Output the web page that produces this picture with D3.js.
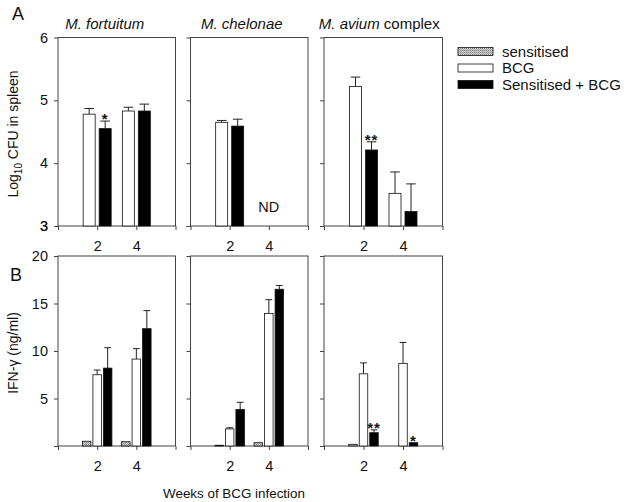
<!DOCTYPE html>
<html><head><meta charset="utf-8">
<script src="https://cdn.jsdelivr.net/npm/d3@7"></script>
<style>body{margin:0;background:#fff}svg{display:block}text{font-family:"Liberation Sans",Arial,sans-serif;fill:#111}</style>
</head><body><svg id="c" width="627" height="502"></svg>
<script>
const weeks = [2, 4];
const panelTitles = ["M. fortuitum", "M. chelonae", "M. avium complex"];
const cfuTicks = [3, 4, 5, 6];
const ifnTicks = [5, 10, 15, 20];
// top row: log10 CFU in spleen (null = not done)
const cfuBCG = [[4.78, 4.83], [4.65, null], [5.22, 3.52]];
const cfuBCGSem = [[0.09, 0.06], [0.03, null], [0.15, 0.34]];
const cfuSensBCG = [[4.55, 4.83], [4.59, null], [4.21, 3.23]];
const cfuSensBCGSem = [[0.12, 0.11], [0.11, null], [0.13, 0.44]];
const cfuStars = [["*", ""], ["", ""], ["**", ""]];
// bottom row: IFN-gamma ng/ml
const ifnSens = [[0.5, 0.45], [0.08, 0.35], [0.18, 0]];
const ifnBCG = [[7.5, 9.15], [1.8, 13.95], [7.6, 8.7]];
const ifnBCGSem = [[0.5, 1.1], [0.12, 1.45], [1.15, 2.2]];
const ifnSensBCG = [[8.2, 12.35], [3.85, 16.5], [1.4, 0.35]];
const ifnSensBCGSem = [[2.15, 1.9], [0.75, 0.4], [0.3, 0.0]];
const ifnStars = [["", ""], ["", ""], ["**", "*"]];
const legendLabels = ["sensitised", "BCG", "Sensitised + BCG"];

const svg = d3.select("#c");
const defs = svg.append("defs");
const pat = defs.append("pattern").attr("id", "stip").attr("width", 2).attr("height", 2).attr("patternUnits", "userSpaceOnUse");
pat.append("rect").attr("width", 2).attr("height", 2).attr("fill", "#d4d4d4");
pat.append("rect").attr("width", 1).attr("height", 1).attr("fill", "#808080");
pat.append("rect").attr("x", 1).attr("y", 1).attr("width", 1).attr("height", 1).attr("fill", "#a0a0a0");
const fills = ["url(#stip)", "#fff", "#000"];

const colX = [[58, 175.5], [190.5, 308], [324, 442.5]];
const titleShift = [-12, -7.5, -4];
const rowTop = [37.5, 226], rowBot = [256, 446];
const axisCol = "#444";

function drawPanel(ci, rowY, yDomain, yTicks, showYLabels, series, sems, stars, barW, step, nd) {
  const x = d3.scaleLinear().domain([0, 6]).range(colX[ci]);
  const y = d3.scaleLinear().domain(yDomain).range([rowY[1], rowY[0]]);
  const g = svg.append("g");
  g.append("rect").attr("x", colX[ci][0]).attr("y", rowY[0]).attr("width", colX[ci][1] - colX[ci][0])
    .attr("height", rowY[1] - rowY[0]).attr("fill", "none").attr("stroke", axisCol).attr("stroke-width", 1);
  const ya = d3.axisLeft(y).tickValues(yTicks.concat([yDomain[0]])).tickSize(4).tickPadding(6)
    .tickFormat(d => showYLabels && yTicks.includes(d) ? d : "");
  const yg = g.append("g").attr("transform", `translate(${colX[ci][0]},0)`).call(ya);
  yg.select(".domain").remove();
  yg.selectAll("line").attr("stroke", axisCol);
  yg.selectAll("text").style("font-size", "14.5px").attr("fill", "#111");
  const xa = d3.axisBottom(x).tickValues([0, 2, 4, 6]).tickSize(4).tickPadding(11)
    .tickFormat(d => weeks.includes(d) ? d : "");
  const xg = g.append("g").attr("transform", `translate(0,${rowY[1]})`).call(xa);
  xg.select(".domain").remove();
  xg.selectAll("line").attr("stroke", axisCol);
  xg.selectAll("text").style("font-size", "14.5px").attr("fill", "#111");
  const n = series.length;
  weeks.forEach((w, wi) => {
    series.forEach((s, si) => {
      const v = s.vals[ci][wi];
      if (v == null || v === 0) return;
      const cx = x(w) + (si - (n - 1) / 2) * step;
      g.append("rect").attr("x", cx - barW / 2).attr("y", y(v)).attr("width", barW)
        .attr("height", Math.max(0.5, y(yDomain[0]) - y(v))).attr("fill", fills[s.fi])
        .attr("stroke", "#111").attr("stroke-width", 0.8);
      const sem = sems[si] ? sems[si][ci][wi] : null;
      if (sem != null && sem > 0) {
        const top = y(v + sem);
        g.append("line").attr("x1", cx).attr("x2", cx).attr("y1", y(v)).attr("y2", top).attr("stroke", "#222");
        g.append("line").attr("x1", cx - barW * 0.4).attr("x2", cx + barW * 0.4).attr("y1", top).attr("y2", top).attr("stroke", "#222");
      }
      if (si === n - 1 && stars[ci][wi]) {
        const top = y(v + (sem || 0));
        g.append("text").attr("x", cx).attr("y", top + 3).attr("text-anchor", "middle")
          .style("font-size", "15px").style("font-weight", "bold").style("letter-spacing", "1px").text(stars[ci][wi]);
      }
    });
  });
  if (nd && nd[ci]) {
    g.append("text").attr("x", x(4)).attr("y", y(3.22)).attr("text-anchor", "middle")
      .style("font-size", "14.5px").text(nd[ci]);
  }
}

for (let ci = 0; ci < 3; ci++) {
  drawPanel(ci, rowTop, [3, 6], cfuTicks, ci === 0,
    [{ vals: cfuBCG, fi: 1 }, { vals: cfuSensBCG, fi: 2 }], [cfuBCGSem, cfuSensBCGSem], cfuStars, 12, 16,
    ["", "ND", ""]);
  drawPanel(ci, rowBot, [0, 20], ifnTicks, ci === 0,
    [{ vals: ifnSens, fi: 0 }, { vals: ifnBCG, fi: 1 }, { vals: ifnSensBCG, fi: 2 }],
    [null, ifnBCGSem, ifnSensBCGSem], ifnStars, 8.5, 10.5, null);
  const tx = (colX[ci][0] + colX[ci][1]) / 2 + titleShift[ci];
  const t = svg.append("text").attr("x", tx).attr("y", 28.5).attr("text-anchor", "middle").style("font-size", "15px");
  if (ci < 2) t.append("tspan").style("font-style", "italic").text(panelTitles[ci]);
  else { t.append("tspan").style("font-style", "italic").text("M. avium"); t.append("tspan").text(" complex"); }
}

svg.append("text").attr("x", 12).attr("y", 19.5).style("font-size", "18px").text("A");
svg.append("text").attr("x", 10).attr("y", 281).style("font-size", "18px").text("B");
const yl1 = svg.append("text").attr("transform", "translate(18,134) rotate(-90)").attr("text-anchor", "middle").style("font-size", "14px");
yl1.append("tspan").text("Log");
yl1.append("tspan").attr("dy", 4).style("font-size", "10px").text("10");
yl1.append("tspan").attr("dy", -4).text(" CFU in spleen");
svg.append("text").attr("transform", "translate(18,353) rotate(-90)").attr("text-anchor", "middle").style("font-size", "14px").text("IFN-γ (ng/ml)");
svg.append("text").attr("x", 234).attr("y", 497.5).attr("text-anchor", "middle").style("font-size", "13.4px").text("Weeks of BCG infection");

legendLabels.forEach((l, i) => {
  const yy = 47.5 + i * 16.5;
  svg.append("rect").attr("x", 458).attr("y", yy).attr("width", 35).attr("height", 8).attr("fill", fills[i]).attr("stroke", "#111").attr("stroke-width", 0.8);
  svg.append("text").attr("x", 502).attr("y", yy + 9).style("font-size", "15px").text(l);
});
</script></body></html>
